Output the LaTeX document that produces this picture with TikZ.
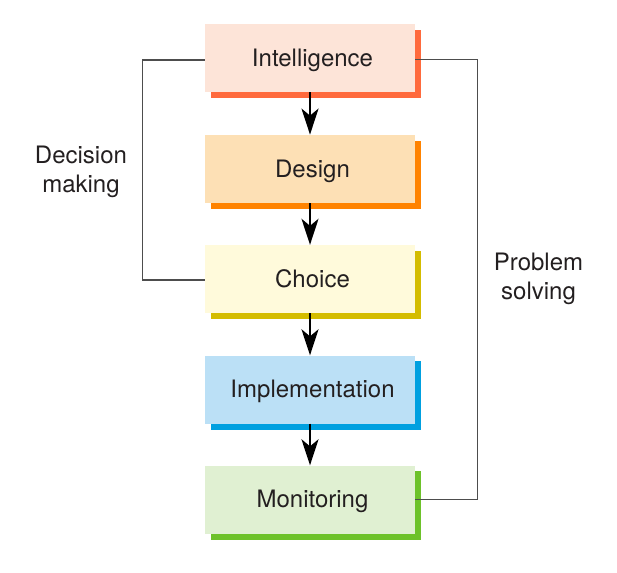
\documentclass[tikz,border=0pt]{standalone}
\usepackage{fontspec}
\setmainfont{TeX Gyre Heros}
\usetikzlibrary{arrows.meta,backgrounds}
\definecolor{txt}{RGB}{35,31,32}
\definecolor{lineg}{RGB}{77,77,77}
\definecolor{intf}{RGB}{253,228,216}
\definecolor{ints}{RGB}{255,106,61}
\definecolor{desf}{RGB}{253,224,181}
\definecolor{dess}{RGB}{255,131,0}
\definecolor{chof}{RGB}{255,250,219}
\definecolor{chos}{RGB}{212,188,0}
\definecolor{impf}{RGB}{187,224,246}
\definecolor{imps}{RGB}{0,160,224}
\definecolor{monf}{RGB}{224,240,210}
\definecolor{mons}{RGB}{109,194,42}
\begin{document}
\begin{tikzpicture}[x=1pt,y=-1pt,
  stagebox/.style={rectangle, inner sep=0pt, minimum width=210pt, minimum height=68pt,
    text height=17.2pt, text depth=0.5pt, font=\fontsize{24}{29}\selectfont, text=txt,
    execute at begin node={\hspace*{5pt}}},
  flow/.style={line width=2pt, black, -{Stealth[length=26pt,width=17pt,inset=7pt]}},
  bracket/.style={line width=1.2pt, lineg},
  sidelabel/.style={align=center, font=\fontsize{24}{29}\selectfont, text=txt, inner sep=0pt}]
\useasboundingbox (0,0) rectangle (617,572);
\node[stagebox, fill=intf] (int) at (310,58.3) {Intelligence};
\node[stagebox, fill=desf] (des) at (310,168.8) {Design};
\node[stagebox, fill=chof] (cho) at (310,279) {Choice};
\node[stagebox, fill=impf] (imp) at (310,389.5) {Implementation};
\node[stagebox, fill=monf] (mon) at (310,499.5) {Monitoring};
\begin{scope}[on background layer]
  \fill[ints] ([shift={(6,6)}]int.south west) rectangle ([shift={(6,6)}]int.north east);
  \fill[dess] ([shift={(6,6)}]des.south west) rectangle ([shift={(6,6)}]des.north east);
  \fill[chos] ([shift={(6,6)}]cho.south west) rectangle ([shift={(6,6)}]cho.north east);
  \fill[imps] ([shift={(6,6)}]imp.south west) rectangle ([shift={(6,6)}]imp.north east);
  \fill[mons] ([shift={(6,6)}]mon.south west) rectangle ([shift={(6,6)}]mon.north east);
\end{scope}
\draw[flow] (int.south) -- (des.north);
\draw[flow] (des.south) -- (cho.north);
\draw[flow] (cho.south) -- (imp.north);
\draw[flow] (imp.south) -- (mon.north);
\draw[bracket] ([yshift=-1.7pt]int.west) -- ++(-62,0) |- ([yshift=-1pt]cho.west);
\draw[bracket] ([yshift=-1pt]int.east) -- ++(62,0) |- (mon.east);
\node[sidelabel] (dm) at (81,172) {Decision\\making};
\node[sidelabel] (ps) at (538.5,279) {Problem\\solving};
\end{tikzpicture}
\end{document}
